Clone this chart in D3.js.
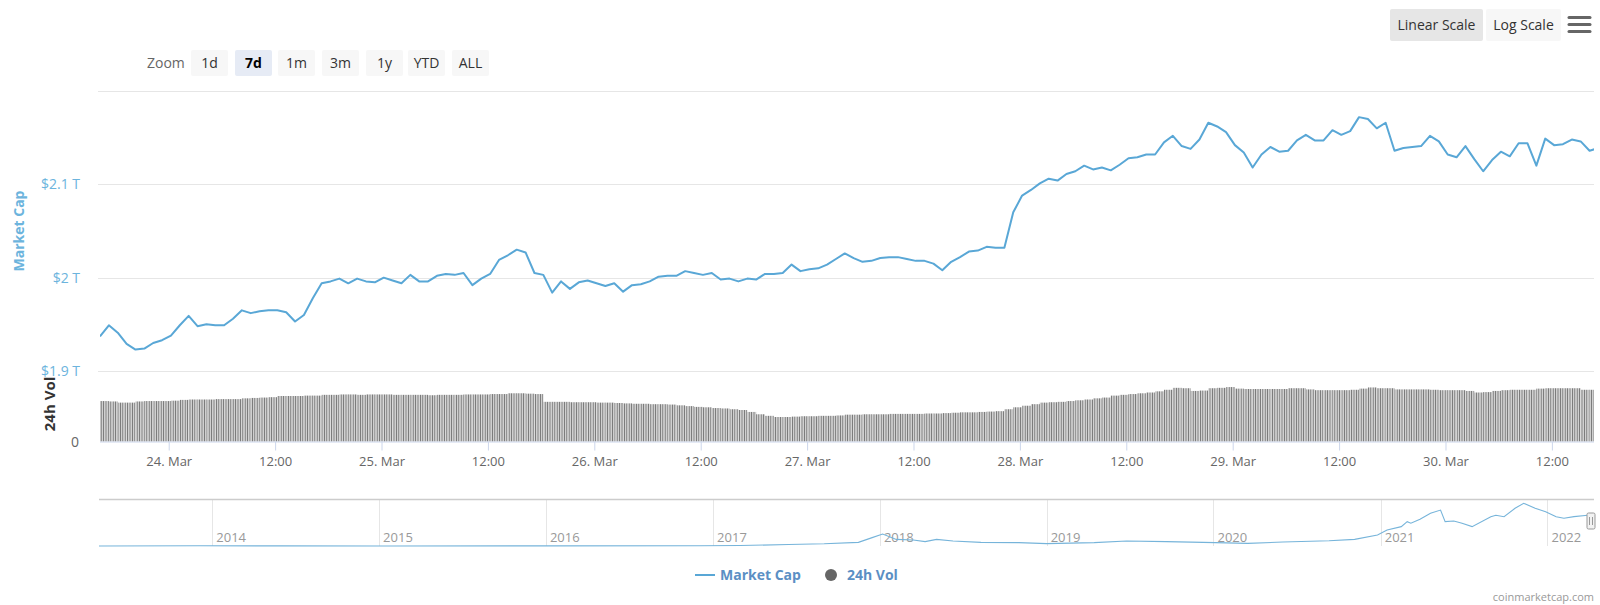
<!DOCTYPE html>
<html>
<head>
<meta charset="utf-8">
<script src="https://cdn.jsdelivr.net/npm/d3@7"></script>
<style>
  body { margin: 0; background: #fff; }
  svg { display: block; font-family: "Open Sans", "DejaVu Sans", sans-serif; }
</style>
</head>
<body>
<div id="chart"></div>
<script>
// 7 day window, one point per hour from 23 Mar 16:15
var startTime = new Date(2022, 2, 23, 16, 15);

// market cap in $T, hourly
var capT = [
  1.937, 1.949, 1.941, 1.929, 1.923, 1.924, 1.930, 1.933, 1.938, 1.949,
  1.959, 1.948, 1.950, 1.949, 1.949, 1.956, 1.965, 1.962, 1.964, 1.965,
  1.965, 1.963, 1.953, 1.960, 1.978, 1.994, 1.996, 1.999, 1.994, 1.999,
  1.996, 1.995, 2.000, 1.997, 1.994, 2.003, 1.996, 1.996, 2.002, 2.004,
  2.003, 2.005, 1.992, 1.999, 2.004, 2.019, 2.024, 2.030, 2.027, 2.005,
  2.003, 1.984, 1.996, 1.988, 1.995, 1.997, 1.994, 1.991, 1.994, 1.985,
  1.992, 1.993, 1.996, 2.001, 2.002, 2.002, 2.007, 2.005, 2.003, 2.005,
  1.998, 1.999, 1.996, 1.999, 1.998, 2.004, 2.004, 2.005, 2.014, 2.007,
  2.009, 2.010, 2.014, 2.020, 2.026, 2.021, 2.017, 2.018, 2.021, 2.022,
  2.022, 2.020, 2.018, 2.018, 2.015, 2.008, 2.017, 2.022, 2.028, 2.029,
  2.033, 2.032, 2.032, 2.070, 2.088, 2.094, 2.101, 2.106, 2.104, 2.111,
  2.114, 2.120, 2.116, 2.118, 2.115, 2.121, 2.128, 2.129, 2.132, 2.132,
  2.145, 2.152, 2.141, 2.138, 2.148, 2.166, 2.162, 2.156, 2.142, 2.134,
  2.118, 2.132, 2.140, 2.135, 2.136, 2.147, 2.153, 2.147, 2.147, 2.158,
  2.153, 2.157, 2.172, 2.170, 2.160, 2.166, 2.136, 2.139, 2.140, 2.141,
  2.152, 2.146, 2.132, 2.129, 2.141, 2.127, 2.114, 2.126, 2.135, 2.130,
  2.144, 2.144, 2.120, 2.149, 2.142, 2.143, 2.148, 2.146, 2.136, 2.139
];

// 24h volume in $B, hourly bars
var volB = [
  104, 103, 100, 100, 103, 104, 104, 104, 105, 107,
  108, 108, 108, 109, 109, 109, 111, 112, 113, 114,
  117, 117, 117, 118, 118, 120, 120, 121, 121, 120,
  121, 121, 121, 120, 120, 120, 120, 119, 120, 120,
  120, 121, 121, 121, 122, 122, 124, 124, 123, 122,
  102, 102, 102, 101, 101, 101, 100, 100, 99, 98,
  97, 97, 96, 96, 95, 93, 91, 89, 88, 86,
  85, 83, 81, 76, 70, 66, 63, 63, 64, 65,
  65, 66, 66, 67, 69, 69, 70, 70, 70, 71,
  71, 71, 71, 72, 72, 73, 74, 75, 75, 76,
  77, 78, 83, 88, 92, 96, 100, 101, 102, 104,
  106, 108, 111, 113, 118, 120, 122, 124, 126, 129,
  133, 138, 137, 130, 131, 137, 138, 140, 136, 135,
  135, 135, 135, 135, 137, 137, 134, 132, 132, 132,
  132, 133, 136, 139, 137, 137, 134, 134, 134, 134,
  133, 132, 132, 132, 130, 126, 127, 130, 132, 133,
  133, 133, 136, 137, 137, 137, 137, 133, 133
];

// navigator: whole history of market cap in $T
var navDates = [
  "2013-04-28", "2013-12-04", "2014-06-01", "2015-01-15", "2016-01-01", "2016-12-01",
  "2017-03-01", "2017-06-15", "2017-09-01", "2017-11-15", "2017-12-15", "2018-01-07",
  "2018-02-06", "2018-03-15", "2018-04-10", "2018-05-05", "2018-06-10", "2018-08-10",
  "2018-11-01", "2019-01-01", "2019-04-15", "2019-06-25", "2019-09-20", "2020-01-05",
  "2020-03-16", "2020-06-01", "2020-09-10", "2020-11-05", "2020-12-25", "2021-01-15",
  "2021-02-15", "2021-02-28", "2021-03-08", "2021-03-28", "2021-04-20", "2021-05-12",
  "2021-05-22", "2021-06-10", "2021-06-28", "2021-07-20", "2021-08-30", "2021-09-10",
  "2021-09-28", "2021-10-22", "2021-11-10", "2021-12-05", "2021-12-28", "2022-01-20",
  "2022-02-06", "2022-02-28", "2022-03-30"
];
var navCaps = [
  0.002, 0.015, 0.009, 0.004, 0.007, 0.017,
  0.03, 0.10, 0.15, 0.25, 0.57, 0.82,
  0.45, 0.41, 0.30, 0.45, 0.34, 0.25,
  0.23, 0.16, 0.23, 0.34, 0.30, 0.23,
  0.18, 0.27, 0.36, 0.45, 0.75, 1.09,
  1.32, 1.66, 1.55, 1.82, 2.23, 2.45,
  1.66, 1.70, 1.55, 1.32, 2.00, 2.10,
  2.00, 2.57, 2.91, 2.57, 2.34, 2.00,
  1.89, 2.00, 2.10
];

var capTicks = [1.9, 2.0, 2.1, 2.2];
var zoomLabels = ["1d", "7d", "1m", "3m", "1y", "YTD", "ALL"];
var selectedZoom = "7d";

var W = 1600, H = 605;
var left = 100, right = 1594;
var hour = 3600 * 1000;
var endTime = new Date(+startTime + 168.5 * hour);

var capData = capT.map(function(v, i) { return { t: new Date(+startTime + i * hour), v: v }; });
var volData = volB.map(function(v, i) { return { t0: new Date(+startTime + i * hour), t1: new Date(+startTime + (i + 1) * hour), v: v }; });
var parseDay = d3.timeParse("%Y-%m-%d");
var navData = navDates.map(function(d, i) { return { t: parseDay(d), v: navCaps[i] }; });

var svg = d3.select("#chart").append("svg").attr("width", W).attr("height", H);

var defs = svg.append("defs");
defs.append("clipPath").attr("id", "plotClip").append("rect")
  .attr("x", left).attr("y", 80).attr("width", right - left).attr("height", 370);
var pat = defs.append("pattern").attr("id", "volStripes")
  .attr("patternUnits", "userSpaceOnUse").attr("width", 2.4).attr("height", 10);
pat.append("rect").attr("width", 2.4).attr("height", 10).attr("fill", "#d0d0d0");
pat.append("rect").attr("width", 0.8).attr("height", 10).attr("fill", "#707070");

// scales
var x = d3.scaleTime().domain([startTime, endTime]).range([left, right]);
var y = d3.scaleLinear().domain([1.9, 2.2]).range([371, 91]);
var yVol = d3.scaleLinear().domain([0, 180]).range([441.5, 371.5]);

// gridlines
svg.append("g").selectAll("line").data(capTicks).enter().append("line")
  .attr("x1", 98).attr("x2", right)
  .attr("y1", function(d) { return Math.round(y(d)) + 0.5; })
  .attr("y2", function(d) { return Math.round(y(d)) + 0.5; })
  .attr("stroke", "#e6e6e6").attr("stroke-width", 1);

// y labels
svg.append("g").selectAll("text").data(capTicks.slice(0, 3)).enter().append("text")
  .attr("x", 80).attr("y", function(d) { return y(d) + 5; })
  .attr("text-anchor", "end").attr("fill", "#6cb4dd").style("font-size", "14px")
  .text(function(d) { return "$" + d3.format("~g")(d) + " T"; });

svg.append("text")
  .attr("transform", "translate(24,231) rotate(-90)")
  .attr("text-anchor", "middle").attr("fill", "#6cb4dd")
  .style("font-size", "14px").style("font-weight", "bold")
  .text("Market Cap");

// volume bars
svg.append("g").attr("clip-path", "url(#plotClip)")
  .selectAll("rect").data(volData).enter().append("rect")
  .attr("x", function(d) { return x(d.t0); })
  .attr("width", function(d) { return x(d.t1) - x(d.t0); })
  .attr("y", function(d) { return yVol(d.v); })
  .attr("height", function(d) { return yVol(0) - yVol(d.v); })
  .attr("fill", "url(#volStripes)");

svg.append("text").attr("x", 79).attr("y", yVol(0) + 5)
  .attr("text-anchor", "end").attr("fill", "#666").style("font-size", "14px").text("0");
svg.append("text")
  .attr("transform", "translate(55,404) rotate(-90)")
  .attr("text-anchor", "middle").attr("fill", "#333")
  .style("font-size", "15px").style("font-weight", "bold")
  .text("24h Vol");

// market cap line
var line = d3.line()
  .x(function(d) { return x(d.t); })
  .y(function(d) { return y(d.v); })
  .curve(d3.curveLinear);
svg.append("path").datum(capData).attr("clip-path", "url(#plotClip)")
  .attr("d", line).attr("fill", "none")
  .attr("stroke", "#59a7d6").attr("stroke-width", 2).attr("stroke-linejoin", "round");

// x axis
var xTicks = d3.timeHour.every(12).range(new Date(2022, 2, 24, 0), new Date(2022, 2, 30, 13));
var fmtDay = d3.timeFormat("%d. %b");
var xAxis = d3.axisBottom(x).tickValues(xTicks).tickSize(9).tickPadding(6)
  .tickFormat(function(d) { return d.getHours() === 0 ? fmtDay(d) : "12:00"; });
var gx = svg.append("g").attr("transform", "translate(0," + yVol(0) + ")").call(xAxis);
gx.select(".domain").attr("stroke", "#ccd6eb").attr("d", "M" + left + ",0.5H" + right);
gx.selectAll(".tick line").attr("stroke", "#ccd6eb");
gx.selectAll(".tick text").attr("fill", "#666").style("font-size", "13px")
  .style("font-family", "'Open Sans', sans-serif");

// navigator
var navTop = 499, navBottom = 546;
var xNav = d3.scaleTime().domain([parseDay("2013-04-28"), new Date(2022, 2, 30, 16)]).range([99, 1588]);
var yNav = d3.scaleLinear().domain([0, 3]).range([navBottom, 502]);
var years = d3.timeYear.range(new Date(2014, 0, 1), new Date(2022, 1, 1));
var gNav = svg.append("g");
gNav.selectAll("line.yr").data(years).enter().append("line")
  .attr("x1", function(d) { return Math.round(xNav(d)) + 0.5; })
  .attr("x2", function(d) { return Math.round(xNav(d)) + 0.5; })
  .attr("y1", navTop).attr("y2", navBottom)
  .attr("stroke", "#e6e6e6");
gNav.selectAll("text.yr").data(years).enter().append("text")
  .attr("x", function(d) { return xNav(d) + 4; }).attr("y", 542)
  .attr("fill", "#999").style("font-size", "13px")
  .text(d3.timeFormat("%Y"));
var navLine = d3.line().x(function(d) { return xNav(d.t); }).y(function(d) { return yNav(d.v); });
gNav.append("path").datum(navData).attr("d", navLine).attr("fill", "none")
  .attr("stroke", "#76b4da").attr("stroke-width", 1.1);
gNav.append("line").attr("x1", 99).attr("x2", right).attr("y1", navTop + 0.5).attr("y2", navTop + 0.5)
  .attr("stroke", "#cccccc").attr("stroke-width", 1.5);
// handle at the selected range
var hx = 1591;
gNav.append("rect").attr("x", hx - 4).attr("y", 513).attr("width", 8).attr("height", 16).attr("rx", 1.5)
  .attr("fill", "#f2f2f2").attr("stroke", "#999");
gNav.selectAll("line.h").data([-1.5, 1.5]).enter().append("line")
  .attr("x1", function(d) { return hx + d; }).attr("x2", function(d) { return hx + d; })
  .attr("y1", 517).attr("y2", 525).attr("stroke", "#999");

// zoom buttons
svg.append("text").attr("x", 147).attr("y", 68).attr("fill", "#666").style("font-size", "14px").text("Zoom");
var btnX = [191, 235, 278, 322, 366, 408, 452];
var gb = svg.append("g").selectAll("g").data(zoomLabels).enter().append("g")
  .attr("transform", function(d, i) { return "translate(" + btnX[i] + ",50)"; });
gb.append("rect").attr("width", 37).attr("height", 26).attr("rx", 2)
  .attr("fill", function(d) { return d === selectedZoom ? "#e6ebf5" : "#f7f7f7"; });
gb.append("text").attr("x", 18.5).attr("y", 18).attr("text-anchor", "middle")
  .attr("fill", function(d) { return d === selectedZoom ? "#000" : "#333"; })
  .style("font-weight", function(d) { return d === selectedZoom ? "bold" : "normal"; })
  .style("font-size", "14px").text(function(d) { return d; });

// scale buttons
var scaleBtns = [{ label: "Linear Scale", x: 1390, w: 93, fill: "#e6e6e6" }, { label: "Log Scale", x: 1486, w: 75, fill: "#f7f7f7" }];
var gs = svg.append("g").selectAll("g").data(scaleBtns).enter().append("g")
  .attr("transform", function(d) { return "translate(" + d.x + ",9)"; });
gs.append("rect").attr("width", function(d) { return d.w; }).attr("height", 32).attr("rx", 2)
  .attr("fill", function(d) { return d.fill; });
gs.append("text").attr("x", function(d) { return d.w / 2; }).attr("y", 21).attr("text-anchor", "middle")
  .attr("fill", "#333").style("font-size", "14px").text(function(d) { return d.label; });
svg.append("g").selectAll("line").data([17.5, 24.5, 31.5]).enter().append("line")
  .attr("x1", 1569).attr("x2", 1590).attr("y1", function(d) { return d; }).attr("y2", function(d) { return d; })
  .attr("stroke", "#666").attr("stroke-width", 3).attr("stroke-linecap", "round");

// legend
var gl = svg.append("g").attr("transform", "translate(0,575)");
gl.append("line").attr("x1", 695).attr("x2", 715).attr("y1", 0).attr("y2", 0)
  .attr("stroke", "#59a7d6").attr("stroke-width", 2);
gl.append("text").attr("x", 720).attr("y", 5).attr("fill", "#5b8fc4")
  .style("font-size", "14px").style("font-weight", "bold").text("Market Cap");
gl.append("circle").attr("cx", 831).attr("cy", 0).attr("r", 6).attr("fill", "#666");
gl.append("text").attr("x", 847).attr("y", 5).attr("fill", "#5b8fc4")
  .style("font-size", "14px").style("font-weight", "bold").text("24h Vol");

// credits
svg.append("text").attr("x", 1594).attr("y", 601).attr("text-anchor", "end")
  .attr("fill", "#999").style("font-size", "11px").text("coinmarketcap.com");
</script>
</body>
</html>
